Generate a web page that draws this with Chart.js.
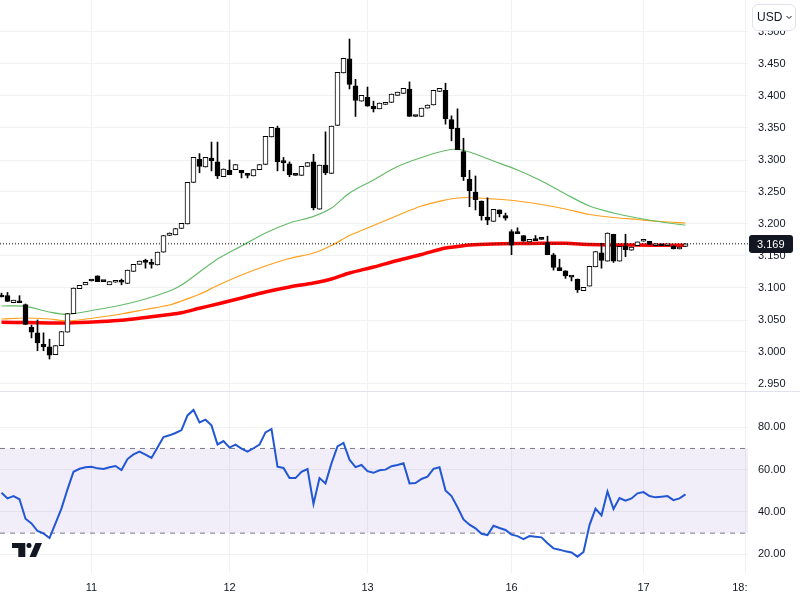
<!DOCTYPE html>
<html><head><meta charset="utf-8">
<script src="https://cdn.jsdelivr.net/npm/chart.js@4"></script>
<style>
html,body{margin:0;padding:0;background:#fff;width:800px;height:600px;overflow:hidden}
#top,#bot{position:absolute;left:0;display:block}
#top{top:0}#bot{top:392px}
#sep{position:absolute;left:0;top:391px;width:800px;height:1px;background:#e0e3eb}
#usd{position:absolute;left:752px;top:4px;width:42px;height:25px;border:1px solid #e0e3eb;border-radius:6px;background:#fff;
font:12px "Liberation Sans",Arial,sans-serif;color:#131722;line-height:25px;padding-left:0;box-sizing:content-box}
#usd span{position:absolute;left:4px;top:0}
#usd svg{position:absolute;left:33px;top:10px}
#logo{position:absolute;left:12px;top:543px}
</style></head><body>
<canvas id="top" width="800" height="391"></canvas>
<canvas id="bot" width="800" height="208"></canvas>
<div id="sep"></div>
<div id="usd"><span>USD</span><svg width="6" height="5" viewBox="0 0 6 5"><path d="M0.5 1 L3 3.5 L5.5 1" fill="none" stroke="#131722" stroke-width="1"/></svg></div>
<svg id="logo" width="31" height="15" viewBox="0 0 31 15"><path d="M0 0H13.3V14H6.3V5H0Z" fill="#131722"/><circle cx="17" cy="2.4" r="2.5" fill="#131722"/><path d="M30 0L24 14H17.5L23.5 0Z" fill="#131722"/></svg>
<script>
const opens=[3.089,3.088,3.077,3.080,3.074,3.039,3.030,3.012,3.008,2.996,
3.010,3.031,3.060,3.099,3.105,3.111,3.119,3.110,3.105,3.109,
3.110,3.107,3.126,3.137,3.141,3.138,3.136,3.156,3.182,3.183,
3.193,3.200,3.265,3.301,3.289,3.303,3.297,3.274,3.284,3.285,
3.284,3.277,3.275,3.285,3.293,3.336,3.350,3.297,3.294,3.276,
3.276,3.290,3.297,3.223,3.292,3.279,3.354,3.436,3.458,3.416,
3.392,3.398,3.384,3.380,3.387,3.390,3.401,3.404,3.411,3.368,
3.368,3.381,3.386,3.407,3.409,3.363,3.350,3.313,3.270,3.250,
3.236,3.211,3.204,3.222,3.213,3.188,3.185,3.182,3.172,3.177,
3.176,3.171,3.152,3.132,3.127,3.117,3.114,3.096,3.103,3.133,
3.155,3.142,3.184,3.142,3.166,3.159,3.166,3.173,3.173,3.166,
3.168,3.166,3.166,3.161,3.165];
const closes=[3.086,3.079,3.081,3.077,3.043,3.031,3.014,3.008,2.995,3.010,
3.032,3.060,3.100,3.104,3.109,3.111,3.110,3.110,3.110,3.112,
3.109,3.128,3.137,3.142,3.140,3.137,3.156,3.182,3.186,3.193,
3.201,3.265,3.304,3.290,3.304,3.299,3.275,3.286,3.277,3.293,
3.280,3.276,3.285,3.293,3.337,3.351,3.297,3.296,3.277,3.276,
3.290,3.296,3.225,3.292,3.280,3.353,3.437,3.459,3.418,3.393,
3.401,3.384,3.380,3.389,3.390,3.403,3.406,3.412,3.368,3.368,
3.381,3.386,3.409,3.412,3.364,3.349,3.316,3.274,3.252,3.238,
3.213,3.206,3.223,3.216,3.209,3.167,3.185,3.173,3.176,3.174,
3.176,3.152,3.132,3.127,3.119,3.117,3.097,3.101,3.134,3.157,
3.143,3.186,3.142,3.165,3.160,3.164,3.172,3.176,3.168,3.169,
3.166,3.168,3.161,3.164,3.169];
const highs=[3.092,3.093,3.081,3.088,3.075,3.042,3.050,3.030,3.020,3.010,
3.032,3.060,3.100,3.104,3.109,3.111,3.119,3.110,3.110,3.112,
3.114,3.128,3.137,3.142,3.145,3.145,3.156,3.182,3.186,3.193,
3.201,3.265,3.304,3.310,3.304,3.328,3.328,3.286,3.300,3.293,
3.284,3.279,3.285,3.293,3.337,3.351,3.353,3.304,3.297,3.276,
3.290,3.296,3.309,3.292,3.344,3.353,3.437,3.459,3.489,3.426,
3.401,3.414,3.392,3.389,3.390,3.403,3.406,3.412,3.422,3.368,
3.381,3.386,3.409,3.412,3.420,3.369,3.380,3.334,3.284,3.275,
3.236,3.241,3.223,3.222,3.217,3.191,3.194,3.182,3.176,3.182,
3.176,3.181,3.154,3.145,3.127,3.117,3.114,3.101,3.134,3.157,
3.170,3.186,3.184,3.165,3.184,3.164,3.172,3.176,3.173,3.169,
3.168,3.168,3.166,3.164,3.169];
const lows=[3.086,3.079,3.077,3.077,3.043,3.022,3.002,3.002,2.989,2.996,
3.010,3.031,3.060,3.099,3.105,3.111,3.110,3.110,3.105,3.109,
3.105,3.107,3.126,3.137,3.131,3.131,3.136,3.156,3.182,3.183,
3.193,3.200,3.265,3.280,3.289,3.283,3.271,3.274,3.277,3.285,
3.272,3.272,3.275,3.285,3.293,3.336,3.283,3.283,3.274,3.276,
3.276,3.290,3.222,3.223,3.277,3.279,3.354,3.436,3.411,3.368,
3.392,3.384,3.375,3.380,3.387,3.390,3.401,3.404,3.368,3.368,
3.368,3.381,3.386,3.407,3.356,3.330,3.316,3.268,3.227,3.222,
3.206,3.199,3.204,3.211,3.206,3.152,3.185,3.173,3.172,3.174,
3.176,3.152,3.128,3.127,3.115,3.111,3.093,3.096,3.103,3.133,
3.131,3.142,3.140,3.142,3.149,3.159,3.166,3.173,3.168,3.166,
3.166,3.166,3.161,3.161,3.165];
const maIndex=[0,4,8,11,16,20,24,28,30,33,36,40,44,48,52,55,58,62,66,70,74,76,78,82,86,90,94,98,102,106,110,114];
const maGreen=[3.0719,3.0714,3.0625,3.0589,3.0664,3.0734,3.0828,3.0953,3.1047,3.125,3.1453,3.1656,3.1859,3.2016,3.212,3.225,3.2484,3.2688,3.2898,3.3039,3.3148,3.3167,3.3125,3.2984,3.2844,3.2672,3.2469,3.2281,3.2172,3.2094,3.2031,3.198];
const maOrange=[3.0516,3.0531,3.0516,3.0484,3.0539,3.0594,3.0664,3.0734,3.0797,3.0902,3.1039,3.1203,3.1344,3.1461,3.1547,3.1664,3.182,3.1977,3.2133,3.2281,3.2375,3.2406,3.2414,3.2391,3.2359,3.2305,3.2234,3.2148,3.2102,3.207,3.2039,3.2016];
const maRed=[3.0464,3.0461,3.0453,3.0453,3.0473,3.0495,3.0539,3.0586,3.0614,3.0683,3.075,3.0844,3.0938,3.1016,3.1078,3.1141,3.1234,3.1328,3.143,3.1523,3.1625,3.1648,3.1672,3.1688,3.1695,3.1698,3.1698,3.168,3.1672,3.1672,3.1667,3.1667];
const rsi=[49.1,46.4,47.5,46.0,36.8,34.6,31.0,29.9,27.7,34.6,
41.7,50.7,59.0,60.4,61.1,61.4,60.6,60.3,61.1,61.7,
59.8,65.0,67.2,68.5,67.1,65.5,70.5,75.4,76.2,77.3,
78.7,85.6,88.2,82.3,83.6,80.9,71.9,73.5,70.4,71.8,
69.9,68.5,70.1,71.8,77.6,79.2,61.4,60.8,56.0,56.0,
59.0,60.3,43.8,56.0,53.5,63.0,71.0,72.6,64.7,61.2,
62.2,59.3,58.5,59.7,60.0,61.6,62.2,63.0,53.5,53.7,
55.6,56.7,60.4,61.1,50.2,47.5,42.2,36.5,34.0,32.3,
29.7,29.1,33.5,32.4,31.5,29.3,28.6,27.2,28.6,28.3,
28.0,25.2,22.8,22.2,21.4,20.9,18.9,21.1,33.8,41.6,
38.4,49.7,41.4,46.6,45.3,46.4,48.8,49.4,47.5,46.9,
47.2,47.5,45.6,46.4,48.3];
const lastPrice=3.169;
const priceTicks=[2.95,3.0,3.05,3.1,3.15,3.2,3.25,3.3,3.35,3.4,3.45,3.5];
const rsiTicks=[20,40,60,80];
const rsiUpper=70, rsiLower=30;
const timeTickIndex=[15,38,61,85,107,124.08];
const timeTickLabels=["11","12","13","16","17","18:00"];

const X_MIN=-0.25, X_MAX=-0.25+748/6;
const GRID='#f0f1f4', TXT='#131722';
const FONT={family:'"Liberation Sans",Arial,sans-serif',size:11};
const idx=opens.map((_,i)=>i);
const pts=(xs,ys)=>xs.map((x,i)=>({x,y:ys[i]}));
const flat=v=>[{x:X_MIN,y:v},{x:X_MAX,y:v}];

function xScale(showLabels){
  return {type:'linear',min:X_MIN,max:X_MAX,offset:false,
    afterBuildTicks(s){s.ticks=timeTickIndex.map(v=>({value:v}));},
    afterFit(s){s.height=showLabels?27:0;s.paddingLeft=0;s.paddingRight=0;},
    grid:{color:GRID,drawTicks:false,offset:false},border:{display:false},
    ticks:{display:showLabels,autoSkip:false,maxRotation:0,padding:8,color:TXT,font:FONT,
      callback:(v)=>timeTickLabels[timeTickIndex.indexOf(v)]}};
}
function yScale(min,max,tickVals,dec){
  return {type:'linear',position:'right',min,max,
    afterBuildTicks(s){s.ticks=tickVals.map(v=>({value:v}));},
    afterFit(s){s.width=52;s.paddingTop=0;s.paddingBottom=0;},
    grid:{color:GRID,drawTicks:false},border:{display:false},
    ticks:{padding:10,color:TXT,font:FONT,autoSkip:false,callback:v=>v.toFixed(dec)}};
}
const base={responsive:false,animation:false,devicePixelRatio:1,layout:{padding:0,autoPadding:false},
  plugins:{legend:{display:false},tooltip:{enabled:false}}};

const badge={id:'badge',afterDraw(c){
  const y=c.scales.y.getPixelForValue(lastPrice),g=c.ctx;
  g.save();g.fillStyle=TXT;g.beginPath();g.roundRect(749,Math.round(y)-9,44,18,3);g.fill();
  g.fillStyle='#fff';g.font='11px "Liberation Sans",Arial,sans-serif';g.textBaseline='middle';g.textAlign='left';
  g.fillText(lastPrice.toFixed(3),757,Math.round(y)+0.5);g.restore();}};

new Chart(document.getElementById('top'),{type:'bar',
  data:{datasets:[
    {type:'line',data:pts(maIndex,maRed),borderColor:'#ff0000',borderWidth:3.5,pointRadius:0,tension:0.3,order:8},
    {type:'line',data:pts(maIndex,maOrange),borderColor:'#ff9f1a',borderWidth:1.2,pointRadius:0,tension:0.3,order:7},
    {type:'line',data:pts(maIndex,maGreen),borderColor:'#66bb6a',borderWidth:1.2,pointRadius:0,tension:0.3,order:6},
    {type:'line',data:flat(lastPrice),borderColor:'#000',borderWidth:1,borderDash:[1,2],pointRadius:0,order:5},
    {type:'bar',data:idx.map(i=>({x:i,y:[lows[i],highs[i]]})),backgroundColor:'#000',borderWidth:0,barThickness:1,grouped:false,order:3},
    {type:'bar',data:idx.map(i=>({x:i,y:[opens[i],closes[i]]})),
      backgroundColor:idx.map(i=>closes[i]>opens[i]?'#fff':'#000'),borderColor:'#000',borderWidth:1,borderSkipped:false,
      barThickness:5,minBarLength:2,grouped:false,order:1}
  ]},
  options:{...base,scales:{x:xScale(false),y:yScale(3.55-391/640,3.55,priceTicks,3)}},
  plugins:[badge]});

const clip18={id:'clip18',afterDraw(c){const g=c.ctx;g.save();g.fillStyle='#fff';g.fillRect(748,c.chartArea.bottom+1,52,30);g.restore();}};
new Chart(document.getElementById('bot'),{type:'line',
  data:{datasets:[
    {data:pts(idx,rsi),borderColor:'#2157d5',borderWidth:2,pointRadius:0,tension:0,order:1},
    {data:flat(rsiUpper),borderColor:'#787b86',borderWidth:1,borderDash:[5,5],pointRadius:0,fill:'+1',backgroundColor:'rgba(126,87,194,0.1)',order:3},
    {data:flat(rsiLower),borderColor:'#787b86',borderWidth:1,borderDash:[5,5],pointRadius:0,order:3}
  ]},
  options:{...base,scales:{x:xScale(true),y:yScale(11.17,96.67,rsiTicks,2)}},
  plugins:[clip18]});
</script></body></html>
